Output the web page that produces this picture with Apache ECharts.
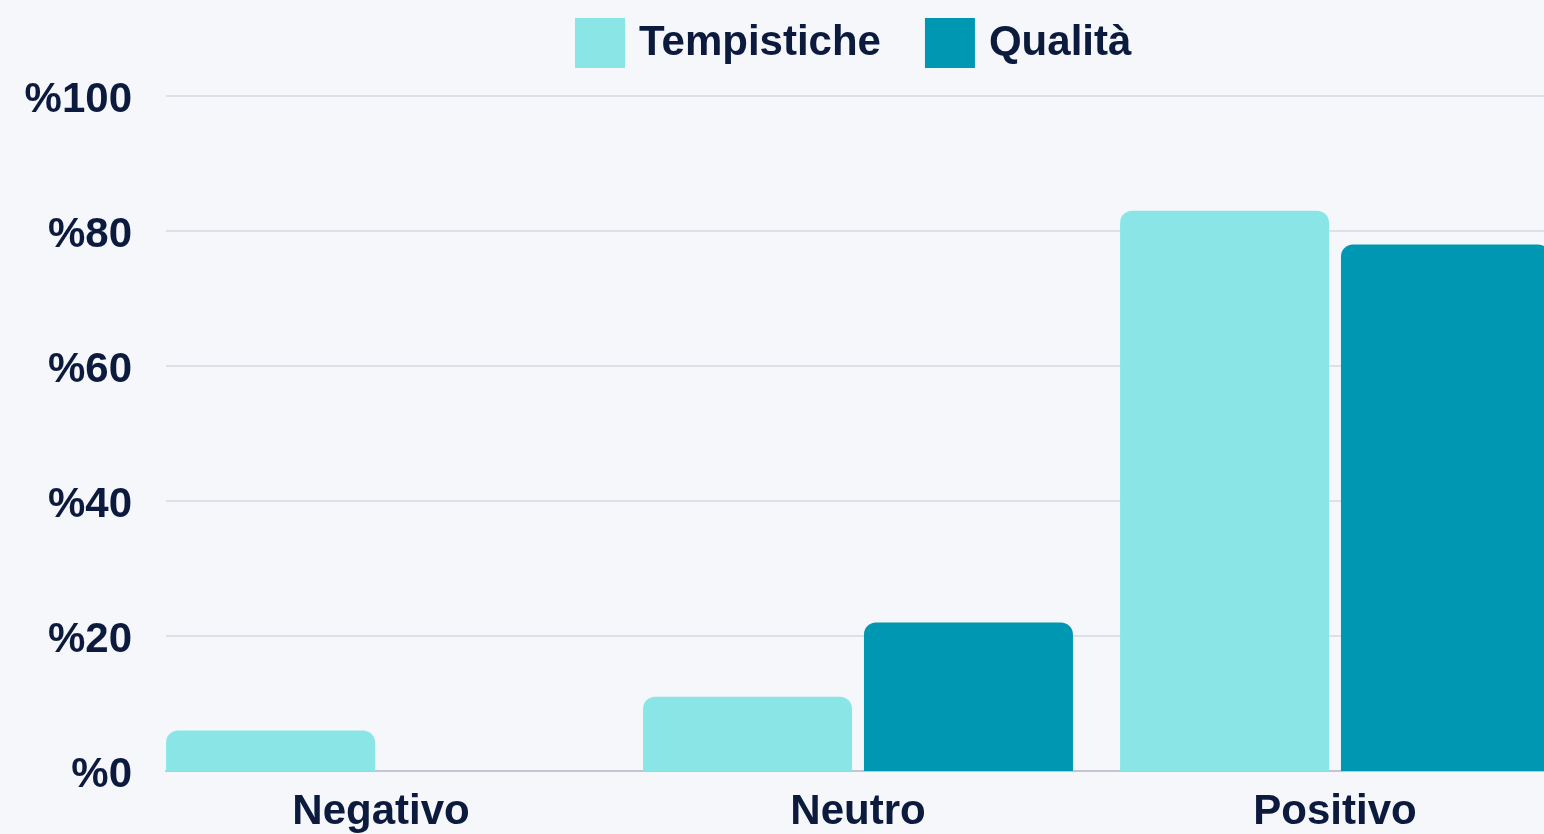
<!DOCTYPE html>
<html>
<head>
<meta charset="utf-8">
<script src="https://cdn.jsdelivr.net/npm/echarts@6/dist/echarts.min.js"></script>
<style>
  html, body { margin: 0; padding: 0; background: #f5f7fb; }
  #main { width: 1544px; height: 834px; }
</style>
</head>
<body>
<div id="main"></div>
<script>
// dati
var categories = ['Negativo', 'Neutro', 'Positivo'];
var tempistiche = [6, 11, 83];
var qualita = [0, 22, 78];
var yTicks = [0, 20, 40, 60, 80, 100];

var navy = '#0b1a3d';
var font = '"Liberation Sans", Arial, sans-serif';

var myChart = echarts.init(document.getElementById('main'));

var option = {
    backgroundColor: '#f5f7fb',
    animation: false,
    textStyle: { fontFamily: font },
    legend: {
        data: ['Tempistiche', 'Qualità'],
        left: 570,
        top: 13,
        itemWidth: 50,
        itemHeight: 50,
        itemGap: 44,
        icon: 'rect',
        textStyle: {
            color: navy,
            fontSize: 42,
            fontWeight: 'bold',
            fontFamily: font,
            padding: [0, 0, 0, 9]
        }
    },
    grid: [
        // barre: le bande delle categorie escono un po' a destra
        { left: 142.5, width: 1431, top: 96, bottom: 63, containLabel: false, outerBoundsMode: 'none' },
        // linee della griglia e etichette dell'asse y
        { left: 166, right: 0, top: 96, bottom: 63, containLabel: false, outerBoundsMode: 'none' }
    ],
    xAxis: [
        {
            type: 'category',
            gridIndex: 0,
            data: categories,
            axisLine: { show: false },
            axisTick: { show: false },
            axisLabel: {
                color: navy,
                fontSize: 42,
                fontWeight: 'bold',
                fontFamily: font,
                margin: 20
            }
        },
        {
            type: 'value',
            gridIndex: 1,
            min: 0,
            max: 1,
            axisLine: { show: true, lineStyle: { color: '#c3c6d0', width: 2 } },
            axisTick: { show: false },
            axisLabel: { show: false },
            splitLine: { show: false }
        }
    ],
    yAxis: [
        {
            type: 'value',
            gridIndex: 0,
            min: 0,
            max: 100,
            interval: 20,
            axisLine: { show: false },
            axisTick: { show: false },
            axisLabel: { show: false },
            splitLine: { show: false }
        },
        {
            type: 'value',
            gridIndex: 1,
            min: yTicks[0],
            max: yTicks[yTicks.length - 1],
            interval: 20,
            axisLine: { show: false },
            axisTick: { show: false },
            axisLabel: {
                margin: 34,
                formatter: function (v) { return '{v|%' + v + '}'; },
                rich: {
                    v: {
                        color: navy,
                        fontSize: 42,
                        fontWeight: 'bold',
                        fontFamily: font,
                        padding: [8, 0, 0, 0]
                    }
                }
            },
            splitLine: { lineStyle: { color: '#dde0e7', width: 2 } }
        }
    ],
    series: [
        {
            name: 'Tempistiche',
            type: 'bar',
            xAxisIndex: 0,
            yAxisIndex: 0,
            barWidth: 209,
            barGap: '5.7%',
            itemStyle: { color: '#8ae6e6', borderRadius: [12, 12, 0, 0] },
            data: tempistiche
        },
        {
            name: 'Qualità',
            type: 'bar',
            xAxisIndex: 0,
            yAxisIndex: 0,
            barWidth: 209,
            barGap: '5.7%',
            itemStyle: { color: '#0097b2', borderRadius: [12, 12, 0, 0] },
            data: qualita
        }
    ]
};
myChart.setOption(option);
window.onresize = myChart.resize;
</script>
</body>
</html>
